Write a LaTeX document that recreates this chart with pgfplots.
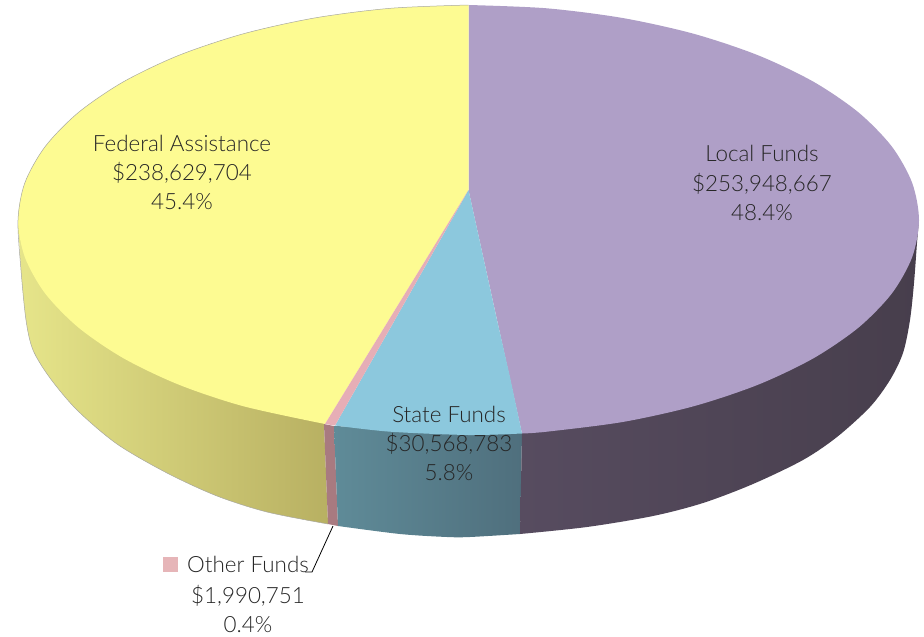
\documentclass[border=0pt]{standalone}
\usepackage{fontspec}
\setmainfont{Lato Light}
\usepackage{pgfplots}
\pgfplotsset{compat=1.18}

\definecolor{topY}{HTML}{FDFB92}
\definecolor{topP}{HTML}{AF9FC7}
\definecolor{topB}{HTML}{8CC8DD}
\definecolor{topR}{HTML}{E6AEB6}
\definecolor{legR}{HTML}{E6B5B8}
\definecolor{edge}{HTML}{A8A8A0}
\definecolor{rimYa}{HTML}{E6E58A}
\definecolor{rimYb}{HTML}{D0CD74}
\definecolor{rimYc}{HTML}{B8B062}
\definecolor{rimR}{HTML}{A87A80}
\definecolor{rimBa}{HTML}{5F8B98}
\definecolor{rimBb}{HTML}{4F6F7D}
\definecolor{rimPa}{HTML}{574C60}
\definecolor{rimPb}{HTML}{473D4D}
\definecolor{rimPc}{HTML}{473E4C}

\newcommand{\lab}[3]{\node[anchor=base,text=black!85,inner sep=0pt] at (axis cs:#1,#2) {\fontsize{22.4}{26}\selectfont #3};}

\begin{document}
\begin{tikzpicture}
\begin{axis}[
    hide axis,
    scale only axis,
    width=924pt,
    height=637pt,
    xmin=0, xmax=924,
    ymin=0, ymax=637,
    y dir=reverse,
    clip=false
]
% rim, overpainted by the top face
\addplot[draw=none,left color=rimYa,middle color=rimYb,right color=rimYc,smooth]
    coordinates {(18,220) (21,270) (26,320) (33,350) (50,378) (77,410) (117,444) (167,473) (217,496) (267,512) (328,524)}
    -- (axis cs:324,424) -- (axis cs:300,300);
\addplot[draw=none,fill=rimR,smooth]
    coordinates {(328,524) (333,525) (338,526)}
    -- (axis cs:334,426) -- (axis cs:324,424);
\addplot[draw=none,left color=rimBa,right color=rimBb,smooth]
    coordinates {(338,526) (400,534) (447,537) (470,537) (520,534)}
    -- (axis cs:522,433) -- (axis cs:334,426);
\addplot[draw=none,left color=rimPa,middle color=rimPb,right color=rimPc,smooth]
    coordinates {(520,534) (587,527) (653,516) (703,503) (753,484) (803,460) (837,437) (870,407) (890,380) (903,353) (910,320) (914,283) (917,243) (919,220)}
    -- (axis cs:800,300) -- (axis cs:522,433);
% top face
\addplot[draw=none,fill=topP,smooth]
    coordinates {(522,433.5) (546.7,431.7) (622.6,422) (693.8,406.2) (758.1,384.7) (813.6,358.2) (858.6,327.5) (891.8,293.5) (912.1,257.3) (919,220) (912.1,182.7) (891.8,146.5) (858.6,112.5) (813.6,81.8) (758.1,55.3) (693.8,33.8) (622.6,18) (546.7,8.3) (468.5,5)}
    -- (axis cs:468.5,190);
\addplot[draw=none,fill=topY,smooth]
    coordinates {(468.5,5) (390.3,8.3) (314.4,18) (243.3,33.8) (178.9,55.3) (123.4,81.8) (78.4,112.5) (45.2,146.5) (24.9,182.7) (18,220) (24.9,257.3) (45.2,293.5) (78.4,327.5) (123.4,358.2) (178.9,384.7) (243.3,406.2) (325,424)}
    -- (axis cs:468.5,190);
\addplot[draw=none,fill=topB,smooth]
    coordinates {(335,425.5) (390.3,431.7) (468.5,435) (522,433.5)}
    -- (axis cs:510,377) -- (axis cs:497,320) -- (axis cs:468.5,190);
\addplot[draw=none,fill=topR]
    coordinates {(468.5,190) (325,424) (335,425.5) (468.5,190)};
% outer hairline on the left
\addplot[edge,line width=0.5pt,smooth]
    coordinates {(468.5,5) (390.3,8.3) (314.4,18) (243.3,33.8) (178.9,55.3) (123.4,81.8) (78.4,112.5) (45.2,146.5) (24.9,182.7) (18,220) (21,270) (26,320) (33,350) (50,378) (77,410) (117,444) (167,473) (217,496) (267,512) (328,524)};
% legend key and leader
\addplot[only marks,mark=square*,mark size=7pt,mark options={draw=legR,fill=legR,line width=0pt}]
    coordinates {(170,564)};
\addplot[black,line width=0.8pt]
    coordinates {(333,526) (312,572) (305,572)};
% labels
\lab{182}{151}{Federal Assistance}
\lab{182}{180}{\$238,629,704}
\lab{182}{209}{45.4\%}
\lab{762}{161}{Local Funds}
\lab{762}{191}{\$253,948,667}
\lab{762}{220}{48.4\%}
\lab{449}{422}{State Funds}
\lab{449}{451}{\$30,568,783}
\lab{449}{480}{5.8\%}
\lab{248}{572}{Other Funds}
\lab{248}{603}{\$1,990,751}
\lab{248}{632}{0.4\%}
\path (axis cs:0,0) rectangle (axis cs:924,637);
\end{axis}
\end{tikzpicture}
\end{document}
